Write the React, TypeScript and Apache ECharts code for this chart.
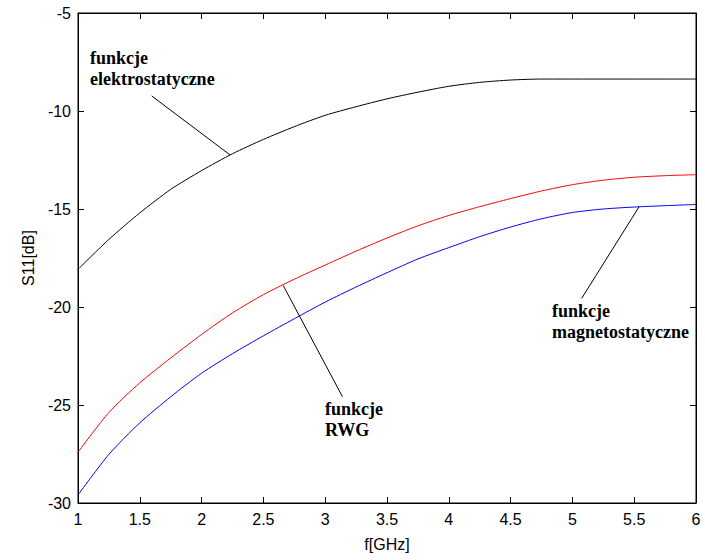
import React, { useEffect, useRef } from "react";
import * as echarts from "echarts";

const freq = [1, 1.25, 1.5, 1.75, 2, 2.25, 2.5, 2.75, 3, 3.25, 3.5, 3.75, 4, 4.25, 4.5, 4.75, 5, 5.25, 5.5, 5.75, 6];
const elektro = [-18.08, -16.55, -15.2, -14.0, -13.04, -12.18, -11.45, -10.8, -10.22, -9.78, -9.38, -9.04, -8.74, -8.54, -8.42, -8.37, -8.37, -8.37, -8.37, -8.37, -8.37];
const rwg = [-27.41, -25.38, -23.87, -22.6, -21.4, -20.3, -19.37, -18.58, -17.86, -17.15, -16.48, -15.86, -15.33, -14.88, -14.47, -14.08, -13.76, -13.53, -13.38, -13.3, -13.25];
const magneto = [-29.59, -27.52, -25.91, -24.58, -23.38, -22.38, -21.47, -20.6, -19.75, -18.98, -18.25, -17.55, -16.97, -16.41, -15.92, -15.5, -15.18, -15.0, -14.9, -14.83, -14.77];

// annotation leader lines in data coordinates [f, S11]
const elektroLeader = [[1.596, -9.23], [2.23, -12.24]];
const rwgLeader = [[2.66, -18.9], [3.14, -24.58]];
const magnetoLeader = [[5.54, -14.88], [5.075, -19.56]];

const labelFont = "'Liberation Sans', Arial, sans-serif";
const annFont = "'Liberation Serif', 'Times New Roman', serif";

function pairs(xs: number[], ys: number[]) {
  return xs.map((x, i) => [x, ys[i]]);
}

function leader(pts: number[][]) {
  return {
    silent: true,
    symbol: ["none", "none"],
    label: { show: false },
    lineStyle: { color: "#000", width: 1, type: "solid" },
    data: [[{ coord: pts[0] }, { coord: pts[1] }]],
  };
}

export default function App() {
  const ref = useRef<HTMLDivElement>(null);
  useEffect(() => {
    if (!ref.current) return;
    const chart = echarts.init(ref.current, null, { renderer: "svg" });
    const axisCommon = {
      min: 1,
      max: 6,
      interval: 0.5,
    };
    const tickInside = { show: true, inside: true, length: 6, lineStyle: { color: "#000", width: 1 } };
    const annStyle = (text: string, x: number, y: number) => ({
      type: "text",
      left: x,
      top: y,
      silent: true,
      style: {
        text,
        fill: "#000",
        font: `bold 18px ${annFont}`,
      },
    });
    const lineSeries = (name: string, ys: number[], color: string, pts: number[][]) => ({
      name,
      type: "line",
      data: pairs(freq, ys),
      showSymbol: false,
      smooth: 0.25,
      lineStyle: { color, width: 1 },
      itemStyle: { color },
      markLine: leader(pts),
    });
    chart.setOption({
      animation: false,
      backgroundColor: "#fff",
      grid: {
        left: 78,
        right: 9,
        top: 13,
        bottom: 57,
        show: true,
        borderColor: "#000",
        borderWidth: 1,
        backgroundColor: "transparent",
      },
      xAxis: [
        {
          type: "value",
          ...axisCommon,
          position: "bottom",
          name: "f[GHz]",
          nameLocation: "middle",
          nameGap: 33,
          nameTextStyle: { color: "#000", fontSize: 16, fontFamily: labelFont },
          axisLine: { show: true, onZero: false, lineStyle: { color: "#000", width: 1 } },
          axisTick: tickInside,
          axisLabel: { color: "#000", fontSize: 16, fontFamily: labelFont, margin: 8 },
          splitLine: { show: false },
        },
        {
          type: "value",
          ...axisCommon,
          position: "top",
          axisLine: { show: true, onZero: false, lineStyle: { color: "#000", width: 1 } },
          axisTick: tickInside,
          axisLabel: { show: false },
          splitLine: { show: false },
        },
      ],
      yAxis: [
        {
          type: "value",
          min: -30,
          max: -5,
          interval: 5,
          position: "left",
          name: "S11[dB]",
          nameLocation: "middle",
          nameGap: 42,
          nameTextStyle: { color: "#000", fontSize: 16, fontFamily: labelFont },
          axisLine: { show: true, onZero: false, lineStyle: { color: "#000", width: 1 } },
          axisTick: tickInside,
          axisLabel: { color: "#000", fontSize: 16, fontFamily: labelFont, margin: 7 },
          splitLine: { show: false },
        },
        {
          type: "value",
          min: -30,
          max: -5,
          interval: 5,
          position: "right",
          axisLine: { show: true, onZero: false, lineStyle: { color: "#000", width: 1 } },
          axisTick: tickInside,
          axisLabel: { show: false },
          splitLine: { show: false },
        },
      ],
      series: [
        lineSeries("elektrostatyczne", elektro, "#000000", elektroLeader),
        lineSeries("RWG", rwg, "#ff0000", rwgLeader),
        lineSeries("magnetostatyczne", magneto, "#0000ff", magnetoLeader),
      ],
      graphic: [
        annStyle("funkcje", 90, 49),
        annStyle("elektrostatyczne", 90, 70),
        annStyle("funkcje", 325, 400),
        annStyle("RWG", 325, 421),
        annStyle("funkcje", 552, 302),
        annStyle("magnetostatyczne", 552, 323),
      ],
    });
    return () => chart.dispose();
  }, []);
  return (
    <div
      ref={ref}
      style={{ position: "fixed", left: 0, top: 0, width: 705, height: 560, background: "#fff" }}
    />
  );
}
